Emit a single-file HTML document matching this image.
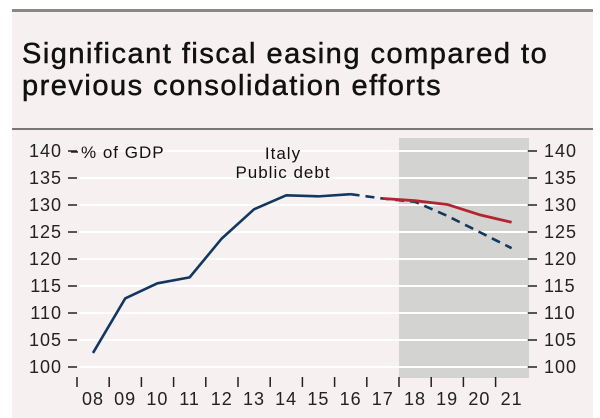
<!DOCTYPE html>
<html><head><meta charset="utf-8"><style>
body{margin:0;background:#fff;width:600px;height:415px;overflow:hidden;font-family:"Liberation Sans",sans-serif}
#panel{position:absolute;left:12px;top:9px;width:581px;height:406px;background:#f6f1f0;border-top:3px solid #888}
#title{position:absolute;left:10px;top:26px;font-size:29px;line-height:32px;color:#111;letter-spacing:1.5px;-webkit-text-stroke:0.5px #111}
#sep{position:absolute;left:0;top:116px;width:581px;height:2px;background:#777}
svg{position:absolute;left:0;top:0}
text{letter-spacing:1px}
</style></head><body>
<div id="panel">
<div id="title">Significant fiscal easing compared to<br>previous consolidation efforts</div>
<div id="sep"></div>
</div>
<svg width="600" height="415" id="chart"></svg>
<script>
const years=["08","09","10","11","12","13","14","15","16","17","18","19","20","21"];
const actual=[102.6,112.7,115.5,116.6,123.8,129.2,131.8,131.6,132.0];
const baseline=[132.0,131.2,130.6,128.0,125.0,122.0];
const plan=[131.2,130.8,130.1,128.2,126.8];
const yTicks=[100,105,110,115,120,125,130,135,140];
const NS="http://www.w3.org/2000/svg";
const svg=document.getElementById('chart');
const x=i=>93+i*32.2;
const y=v=>367-(v-100)*5.4;
function mk(t,a){const e=document.createElementNS(NS,t);for(const k in a)e.setAttribute(k,a[k]);svg.appendChild(e);return e;}
const sh=mk('rect',{x:399,y:138,width:130,height:240,fill:'#d3d3d1'});


yTicks.forEach(v=>{
 const g=mk('line',{x1:79,x2:527,y1:y(v),y2:y(v),stroke:'#fff','stroke-width':2});
 
 
 mk('line',{x1:68,x2:77,y1:y(v),y2:y(v),stroke:'#222','stroke-width':1.5});
 mk('line',{x1:528,x2:537,y1:y(v),y2:y(v),stroke:'#222','stroke-width':1.5});
 const l=mk('text',{x:62,y:y(v)+6,'text-anchor':'end','font-size':18,fill:'#222'});l.textContent=v;
 
 
 const r=mk('text',{x:544,y:y(v)+6,'font-size':18,fill:'#222'});r.textContent=v;
 
 
});
years.forEach((yr,i)=>{
 mk('line',{x1:x(i)-16,x2:x(i)-16,y1:377,y2:387,stroke:'#222','stroke-width':1.5});
 const t=mk('text',{x:x(i),y:405,'text-anchor':'middle','font-size':18,fill:'#222'});t.textContent=yr;
 
 
});
const u=mk('text',{x:81,y:158,'font-size':17,fill:'#111'});u.textContent='% of GDP';


mk('line',{x1:71,x2:78,y1:152,y2:152,stroke:'#222','stroke-width':1.5});
const t1=mk('text',{x:283,y:159,'text-anchor':'middle','font-size':17,fill:'#111'});t1.textContent='Italy';


const t2=mk('text',{x:283,y:178,'text-anchor':'middle','font-size':17,fill:'#111'});t2.textContent='Public debt';


const pts=(arr,off)=>arr.map((v,i)=>x(i+off)+','+y(v)).join(' ');
const l1=mk('polyline',{points:pts(actual,0),fill:'none',stroke:'#12385f','stroke-width':2.6,'stroke-linejoin':'round'});


const l2=mk('polyline',{points:pts(baseline,8),fill:'none',stroke:'#12385f','stroke-width':2.6,'stroke-dasharray':'9 6'});


const l3=mk('polyline',{points:pts(plan,9),fill:'none',stroke:'#b3252e','stroke-width':2.8,'stroke-linejoin':'round'});


</script>
</body></html>
